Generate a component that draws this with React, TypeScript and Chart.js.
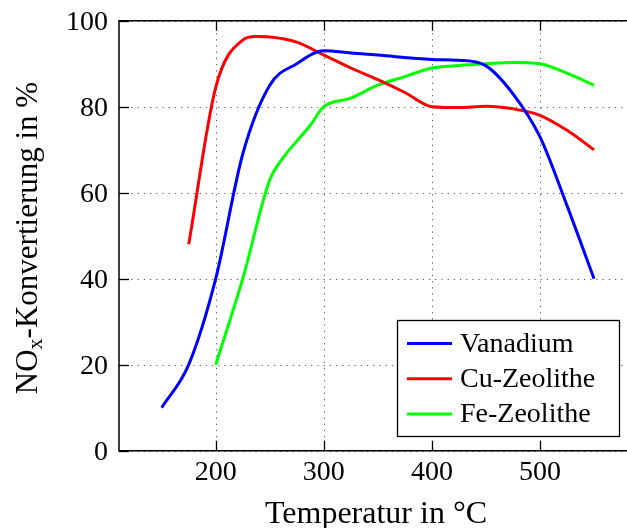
import React, { useEffect, useRef } from 'react';
import { Chart, registerables } from 'chart.js';

Chart.register(...registerables);

// ---- data ----
const vanadiumT = [150, 175, 200, 225, 250, 275, 300, 325, 350, 400, 425, 450, 475, 500, 525, 550];
const vanadiumY = [10, 20, 40, 69, 85, 90, 93, 92.5, 92, 91, 90.8, 89.5, 83, 73, 57, 40];

const cuT = [175, 200, 225, 237, 250, 275, 300, 325, 350, 375, 400, 425, 450, 475, 500, 525, 550];
const cuY = [48, 84.5, 95.5, 96.3, 96.2, 95, 92, 89, 86.3, 83.3, 80, 79.8, 80.1, 79.5, 78, 74.5, 70];

const feT = [200, 225, 250, 262, 275, 287, 300, 325, 350, 375, 400, 425, 450, 475, 500, 525, 550];
const feY = [20, 40, 63, 68, 72, 75.5, 80, 82, 85, 87, 89, 89.6, 90, 90.3, 90, 87.8, 85];

const seriesNames = ['Vanadium', 'Cu-Zeolithe', 'Fe-Zeolithe'];
const seriesColors = ['#0000ff', '#ff0000', '#00ff00'];

const xTicks = [200, 300, 400, 500];
const yTicks = [0, 20, 40, 60, 80, 100];
const xTitle = 'Temperatur in °C';

const FONT = "'Liberation Serif', 'DejaVu Serif', serif";

export default function App() {
  const ref = useRef<HTMLCanvasElement>(null);

  useEffect(() => {
    if (!ref.current) return;

    const pgfPlugin = {
      id: 'pgf',
      beforeDatasetsDraw(chart: any) {
        const { ctx, chartArea, scales } = chart;
        const { left, right, top, bottom } = chartArea;
        const x = scales.x;
        const y = scales.y;
        ctx.save();
        ctx.strokeStyle = '#555';
        ctx.lineWidth = 1;
        ctx.setLineDash([1.2, 5]);
        for (const v of xTicks) {
          const px = Math.round(x.getPixelForValue(v)) + 0.5;
          ctx.beginPath();
          ctx.moveTo(px, top);
          ctx.lineTo(px, bottom);
          ctx.stroke();
        }
        for (const v of yTicks) {
          const py = Math.round(y.getPixelForValue(v)) + 0.5;
          ctx.beginPath();
          ctx.moveTo(left, py);
          ctx.lineTo(right, py);
          ctx.stroke();
        }
        ctx.restore();
      },
      afterDraw(chart: any) {
        const { ctx, chartArea, scales } = chart;
        const { left, right, top, bottom } = chartArea;
        const x = scales.x;
        const y = scales.y;
        ctx.save();
        ctx.setLineDash([]);
        ctx.strokeStyle = '#000';
        ctx.lineWidth = 1.5;
        // axes: left, bottom, top
        ctx.beginPath();
        ctx.moveTo(right + 2, top);
        ctx.lineTo(left, top);
        ctx.lineTo(left, bottom);
        ctx.lineTo(right + 2, bottom);
        ctx.stroke();
        // tick marks
        ctx.lineWidth = 1.3;
        for (const v of xTicks) {
          const px = Math.round(x.getPixelForValue(v)) + 0.5;
          ctx.beginPath();
          ctx.moveTo(px, bottom);
          ctx.lineTo(px, bottom - 10);
          ctx.moveTo(px, top);
          ctx.lineTo(px, top + 10);
          ctx.stroke();
        }
        for (const v of yTicks) {
          const py = Math.round(y.getPixelForValue(v)) + 0.5;
          ctx.beginPath();
          ctx.moveTo(left, py);
          ctx.lineTo(left + 10, py);
          ctx.stroke();
        }
        // tick labels
        ctx.fillStyle = '#000';
        ctx.font = `28px ${FONT}`;
        ctx.textBaseline = 'alphabetic';
        ctx.textAlign = 'center';
        for (const v of xTicks) {
          ctx.fillText(String(v), x.getPixelForValue(v), 480);
        }
        ctx.textAlign = 'right';
        for (const v of yTicks) {
          ctx.fillText(String(v), left - 11, y.getPixelForValue(v) + 9.3);
        }
        // x title
        ctx.textAlign = 'center';
        ctx.font = `32px ${FONT}`;
        ctx.fillText(xTitle, 376, 523);
        // y title with subscript
        ctx.save();
        ctx.translate(37, 238);
        ctx.rotate(-Math.PI / 2);
        const partA = 'NO';
        const partSub = 'x';
        const partB = '-Konvertierung in %';
        ctx.font = `31px ${FONT}`;
        const wA = ctx.measureText(partA).width;
        const wB = ctx.measureText(partB).width;
        ctx.font = `22px ${FONT}`;
        const wS = ctx.measureText(partSub).width;
        const total = wA + wS + wB;
        let cx = -total / 2;
        ctx.textAlign = 'left';
        ctx.textBaseline = 'alphabetic';
        ctx.font = `31px ${FONT}`;
        ctx.fillText(partA, cx, 0);
        cx += wA;
        ctx.font = `22px ${FONT}`;
        ctx.fillText(partSub, cx, 5);
        cx += wS;
        ctx.font = `31px ${FONT}`;
        ctx.fillText(partB, cx, 0);
        ctx.restore();

        // legend
        const lx = 397.5, ly = 320.5, lw = 222, lh = 116;
        ctx.fillStyle = '#fff';
        ctx.fillRect(lx, ly, lw, lh);
        ctx.strokeStyle = '#000';
        ctx.lineWidth = 1.3;
        ctx.strokeRect(lx, ly, lw, lh);
        ctx.font = `28px ${FONT}`;
        ctx.textAlign = 'left';
        ctx.textBaseline = 'middle';
        seriesNames.forEach((name, i) => {
          const ey = 343.5 + i * 35.3;
          ctx.strokeStyle = seriesColors[i];
          ctx.lineWidth = 3;
          ctx.beginPath();
          ctx.moveTo(407, ey);
          ctx.lineTo(452, ey);
          ctx.stroke();
          ctx.fillStyle = '#000';
          ctx.fillText(name, 460, ey + 1);
        });
        ctx.restore();
      },
    };

    const mk = (ts: number[], ys: number[]) => ts.map((t, i) => ({ x: t, y: ys[i] }));

    const chart = new Chart(ref.current, {
      type: 'line',
      data: {
        datasets: [
          { label: seriesNames[0], data: mk(vanadiumT, vanadiumY), borderColor: seriesColors[0] },
          { label: seriesNames[1], data: mk(cuT, cuY), borderColor: seriesColors[1] },
          { label: seriesNames[2], data: mk(feT, feY), borderColor: seriesColors[2] },
        ].map((d) => ({
          ...d,
          borderWidth: 3,
          pointRadius: 0,
          fill: false,
          cubicInterpolationMode: 'monotone' as const,
          borderCapStyle: 'butt' as const,
          borderJoinStyle: 'round' as const,
        })),
      },
      options: {
        animation: false,
        responsive: false,
        layout: { padding: { top: 20.7, right: 0, left: 0, bottom: 0 } },
        plugins: { legend: { display: false }, tooltip: { enabled: false } },
        scales: {
          x: {
            type: 'linear',
            min: 110.5,
            max: 580.5,
            ticks: { display: false },
            grid: { display: false, drawTicks: false },
            border: { display: false },
            afterFit: (s: any) => {
              s.height = 77.3;
            },
          },
          y: {
            type: 'linear',
            min: 0,
            max: 100,
            ticks: { display: false },
            grid: { display: false, drawTicks: false },
            border: { display: false },
            afterFit: (s: any) => {
              s.width = 119;
            },
          },
        },
      },
      plugins: [pgfPlugin],
    });

    return () => chart.destroy();
  }, []);

  return (
    <div style={{ position: 'fixed', left: 0, top: 0, width: 627, height: 528, background: '#fff' }}>
      <canvas ref={ref} width={627} height={528} style={{ display: 'block' }} />
    </div>
  );
}
